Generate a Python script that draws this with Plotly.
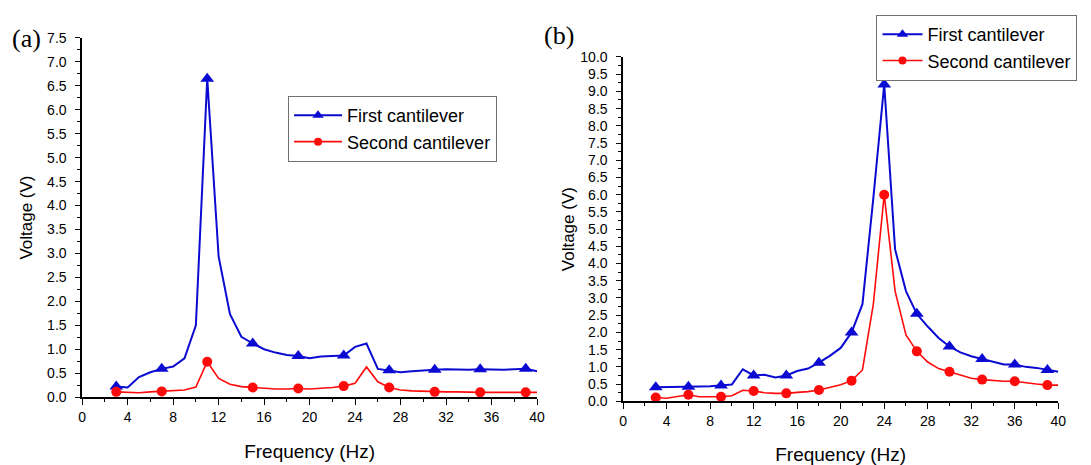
import plotly.graph_objects as go

W, H = 1091, 465

# ---------------- data ----------------
freq = [3, 4, 5, 6, 7, 8, 9, 10, 11, 12, 13, 14, 15, 16, 17, 18, 19, 20, 21, 22,
        23, 24, 25, 26, 27, 28, 29, 30, 31, 32, 33, 34, 35, 36, 37, 38, 39, 40]

a_first = [0.22, 0.20, 0.42, 0.52, 0.59, 0.64, 0.81, 1.50, 6.65, 2.94, 1.73, 1.26, 1.12, 1.00,
           0.93, 0.88, 0.86, 0.81, 0.85, 0.86, 0.87, 1.05, 1.12, 0.59, 0.56, 0.52, 0.54, 0.56,
           0.57, 0.58, 0.57, 0.57, 0.58, 0.57, 0.57, 0.58, 0.59, 0.54]
a_second = [0.11, 0.10, 0.09, 0.11, 0.12, 0.14, 0.15, 0.21, 0.74, 0.39, 0.27, 0.22, 0.20, 0.18,
            0.17, 0.17, 0.18, 0.17, 0.18, 0.20, 0.23, 0.29, 0.63, 0.32, 0.20, 0.15, 0.13, 0.12,
            0.11, 0.11, 0.11, 0.10, 0.10, 0.10, 0.10, 0.10, 0.10, 0.10]

b_first = [0.41, 0.41, 0.41, 0.42, 0.43, 0.44, 0.46, 0.49, 0.93, 0.75, 0.77, 0.69, 0.75, 0.88,
           0.95, 1.12, 1.32, 1.55, 2.00, 2.82, 5.90, 9.20, 4.41, 3.20, 2.54, 2.17, 1.84, 1.59,
           1.42, 1.31, 1.23, 1.16, 1.07, 1.07, 1.00, 0.97, 0.91, 0.86]
b_second = [0.11, 0.09, 0.14, 0.19, 0.13, 0.13, 0.13, 0.16, 0.32, 0.30, 0.25, 0.23, 0.23, 0.26,
            0.28, 0.33, 0.40, 0.48, 0.60, 0.91, 2.82, 6.00, 3.20, 1.93, 1.45, 1.14, 0.95, 0.86,
            0.77, 0.67, 0.63, 0.60, 0.58, 0.58, 0.53, 0.50, 0.47, 0.47]

a_marker_freq = [3, 7, 11, 15, 19, 23, 27, 31, 35, 39]
b_marker_freq = [3, 6, 9, 12, 15, 18, 21, 24, 27, 30, 33, 36, 39]

series_names = ["First cantilever", "Second cantilever"]
x_title = "Frequency (Hz)"
y_title = "Voltage (V)"
panel_labels = ["(a)", "(b)"]

# ---------------- style ----------------
BLUE = "#0a0ad2"
RED = "#ff0a0a"
FONT = "Arial, Liberation Sans, sans-serif"
SERIF = "Times New Roman, Liberation Serif, serif"


def px_x(p):
    return p / W


def py(p):
    return 1 - p / H


fig = go.Figure()


def add_panel(xa, ya, legend, first, second, marker_freq):
    mx = marker_freq
    my1 = [first[freq.index(f)] for f in mx]
    my2 = [second[freq.index(f)] for f in mx]
    specs = [
        (first, my1, BLUE, 2.0, "triangle-up", 12, series_names[0]),
        (second, my2, RED, 1.6, "circle", 10, series_names[1]),
    ]
    for ys, mys, col, lw, sym, ms, name in specs:
        fig.add_trace(go.Scatter(x=freq, y=ys, mode="lines", xaxis=xa, yaxis=ya,
                                 line=dict(color=col, width=lw), showlegend=False,
                                 cliponaxis=False, hoverinfo="skip"))
        fig.add_trace(go.Scatter(x=mx, y=mys, mode="markers", xaxis=xa, yaxis=ya,
                                 marker=dict(color=col, symbol=sym, size=ms), showlegend=False,
                                 cliponaxis=False))
        fig.add_trace(go.Scatter(x=[None], y=[None], mode="lines+markers", xaxis=xa, yaxis=ya,
                                 line=dict(color=col, width=lw),
                                 marker=dict(color=col, symbol=sym, size=ms - 2),
                                 name=name, legend=legend, showlegend=True))


add_panel("x", "y", "legend", a_first, a_second, a_marker_freq)
add_panel("x2", "y2", "legend2", b_first, b_second, b_marker_freq)

common_x = dict(range=[0, 40], dtick=4, tick0=0, ticks="outside", ticklen=6, tickwidth=1.3,
                showline=True, linecolor="black", linewidth=1.5, showgrid=False, zeroline=False,
                tickfont=dict(family=FONT, size=14, color="black"),
                minor=dict(dtick=2, ticks="outside", ticklen=3, tickwidth=1.1, tickcolor="black"),
                tickcolor="black",
                title=dict(text=x_title, font=dict(family=FONT, size=19, color="black"), standoff=21))
common_y = dict(ticks="outside", ticklen=5, tickwidth=1.3, tickcolor="black",
                showline=True, linecolor="black", linewidth=1.5, showgrid=False, zeroline=False,
                tickfont=dict(family=FONT, size=14, color="black"), tickformat=".1f",
                ticklabelstandoff=6,
                minor=dict(dtick=0.25, ticks="outside", ticklen=3, tickwidth=1.1, tickcolor="black"))
legend_common = dict(xanchor="left", yanchor="top", bgcolor="white", bordercolor="#707070",
                     borderwidth=1.2, font=dict(family=FONT, size=18, color="black"),
                     tracegroupgap=0)

fig.update_layout(
    width=W, height=H, margin=dict(l=0, r=0, t=0, b=0),
    paper_bgcolor="white", plot_bgcolor="white",
    font=dict(family=FONT, color="black"),
    xaxis=dict(domain=[px_x(79), px_x(539)], anchor="y", **common_x),
    yaxis=dict(domain=[py(403), py(31)], anchor="x", range=[0, 7.5], dtick=0.5, tick0=0,
               title=dict(text=y_title, font=dict(family=FONT, size=17, color="black"), standoff=10),
               **common_y),
    xaxis2=dict(domain=[px_x(626), px_x(1066)], anchor="y2", **common_x),
    yaxis2=dict(domain=[py(407.3), py(50.7)], anchor="x2", range=[0, 10], dtick=0.5, tick0=0,
                title=dict(text=y_title, font=dict(family=FONT, size=17, color="black"), standoff=1),
                **common_y),
    legend=dict(x=px_x(287), y=py(91), itemwidth=48, **legend_common),
    legend2=dict(x=px_x(882), y=py(7), itemwidth=40, **legend_common),
    annotations=[
        dict(text=panel_labels[0], x=px_x(23), y=py(32), xref="paper", yref="paper",
             xanchor="center", yanchor="middle",
             showarrow=False, font=dict(family=SERIF, size=26, color="black")),
        dict(text=panel_labels[1], x=px_x(561), y=py(28), xref="paper", yref="paper",
             xanchor="center", yanchor="middle",
             showarrow=False, font=dict(family=SERIF, size=26, color="black")),
    ],
)

fig.write_html("out.html")
